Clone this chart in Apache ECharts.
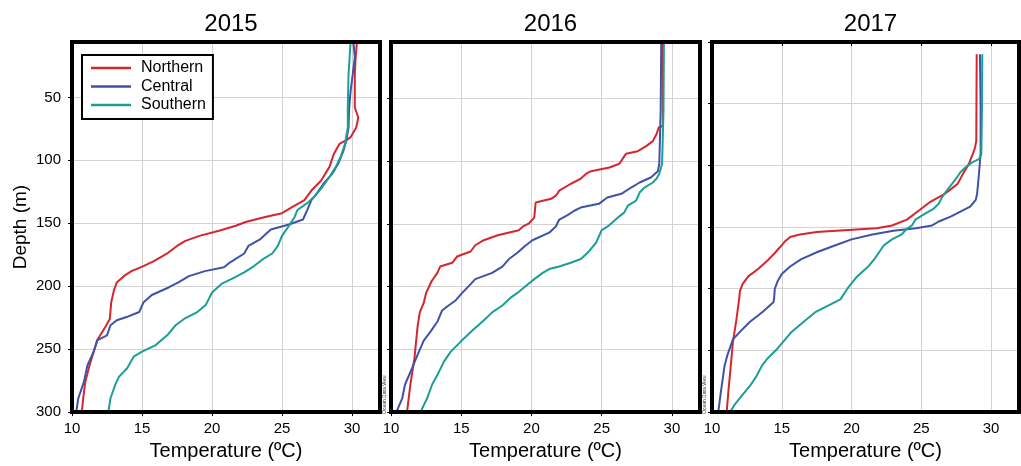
<!DOCTYPE html>
<html>
<head>
<meta charset="utf-8">
<script src="https://cdn.jsdelivr.net/npm/echarts@6/dist/echarts.min.js"></script>
<style>
html,body{margin:0;padding:0;background:#fff;}
#chart{width:1021px;height:466px;}
</style>
</head>
<body>
<div id="chart"></div>
<script>
// ---- DATA: each profile is [temperature (°C), depth (m)] ----
const years = ['2015', '2016', '2017'];
const seriesNames = ['Northern', 'Central', 'Southern'];
const xTicks = [10, 15, 20, 25, 30];
const yTicks = [50, 100, 150, 200, 250, 300];

const north2015 = [[30.35,6],[30.25,20],[30.2,32],[30.2,45],[30.2,58],[30.45,66],[30.3,74],[29.9,81.6],[29.6,84],[29.1,87],[28.7,95],[28.4,105],[27.8,116],[27.1,124],[26.6,131.6],[25.75,137],[25,142],[23.8,145],[22.4,149],[21.7,152],[20.5,156],[19.1,160],[18.1,164],[17.5,168],[16.8,174],[15.85,180],[15.1,184],[14.25,188],[13.7,192],[13.2,197],[13.0,203],[12.8,213],[12.7,226],[12.4,232],[11.8,243],[11.55,252],[11.25,263],[10.95,276],[10.8,289],[10.7,300]];
const central2015 = [[30.1,6],[30.2,18],[30.05,32],[29.9,45],[29.8,58],[29.75,74],[29.6,84],[29.4,92],[29.0,103],[28.6,110.5],[28.0,118],[27.5,126],[27.1,131.6],[26.8,139.5],[26.5,147],[25.5,151],[24.2,155],[23.4,163],[22.6,168],[22.3,174],[21.3,181],[20.85,185],[19.5,188],[18.35,192],[17.6,197],[16.9,201],[15.7,207],[15.1,213],[14.8,220.5],[13.9,224.5],[13.2,227],[12.75,231],[12.5,239],[11.8,243],[11.55,252],[11.1,263],[10.85,276],[10.45,289],[10.3,300]];
const south2015 = [[29.9,6],[29.75,32],[29.7,58],[29.7,74],[29.5,87],[29.2,97],[28.85,105],[28.4,113],[27.9,121],[27.3,129],[26.8,134],[26.1,139.5],[25.9,145],[25.5,152],[25.0,160],[24.7,168],[24.3,174],[23.7,178],[23.0,184],[22.3,189],[21.45,194],[20.7,198],[20.0,205],[19.55,215],[18.95,220.5],[18.0,226],[17.4,231],[16.8,239],[15.95,247],[15.0,252],[14.4,256],[13.95,265],[13.35,272],[13.1,278],[12.75,289],[12.6,300]];

const north2016 = [[29.36,5],[29.36,40],[29.36,72],[29.07,73],[28.9,78.6],[28.64,84],[28.17,88],[27.57,92],[26.74,94],[26.5,98],[26.26,102],[25.55,105],[24.24,108],[23.9,110],[23.5,114],[22.8,118],[21.98,123.5],[21.74,127.5],[21.4,130],[20.3,133],[20.2,145],[19.83,149.5],[19.4,152],[19.1,155],[17.6,159],[16.6,163],[16.0,167],[15.67,172],[14.7,176],[14.36,181],[13.5,184],[13.3,189],[12.9,195.5],[12.5,205],[12.33,213],[12.05,220.5],[11.9,231],[11.67,257],[11.38,278],[11.14,300]];
const central2016 = [[29.24,5],[29.2,60],[29.1,102],[29.0,108],[28.5,113],[27.7,117],[27.1,121],[26.4,126],[25.4,129],[24.8,134],[23.5,137],[23.05,139.5],[22.57,143],[21.98,146.5],[21.74,152],[21.26,157],[20.07,163],[19.5,168],[19.0,173],[18.4,178],[17.93,184],[17.2,189],[16.0,194],[15.67,198],[15.07,205],[14.6,211],[14.1,215],[13.64,219],[13.3,228],[12.8,236],[12.33,243],[11.98,252],[11.5,265],[11.0,278],[10.8,289],[10.38,300]];
const south2016 = [[29.43,5],[29.4,60],[29.3,102],[29.1,110],[28.9,114],[28.64,117],[28.05,121],[27.7,125],[27.45,131.5],[26.86,135.5],[26.6,141],[26.14,145],[25.43,152],[25.0,155],[24.6,165],[24.0,173],[23.52,178],[22.8,181],[21.98,184],[21.26,186],[20.8,189],[20.2,194],[19.6,199.5],[19.0,205],[18.5,209],[17.93,215],[17.2,220.5],[16.6,227],[15.79,235],[14.95,244],[14.24,252],[13.76,260],[13.3,270.5],[12.93,278],[12.57,289],[12.1,300]];

const north2017 = [[28.97,10],[28.95,50],[28.94,80],[28.85,85.6],[28.65,92],[28.4,99],[27.98,107],[27.6,115],[26.7,123],[25.65,129.5],[24.9,136],[23.97,144],[22.9,148.7],[21.8,151],[19.5,152.5],[17.5,154],[16.3,156],[15.6,158],[15.2,162],[14.9,166],[14.5,171],[14.0,177],[13.3,184],[12.6,190],[12.2,196],[12.0,202],[11.95,208],[11.75,225],[11.5,243],[11.35,262],[11.2,280],[11.05,300]];
const central2017 = [[29.2,10],[29.25,50],[29.25,90],[29.13,107],[29.0,123],[28.9,128],[28.5,133.5],[27.8,137.5],[27.1,141.5],[26.25,145.5],[25.77,148.7],[24.6,151],[23.0,153],[21.5,156],[20.0,160],[18.8,165],[17.6,170],[16.4,176],[15.6,182],[15.0,188],[14.7,194],[14.5,200],[14.45,208],[14.4,211],[13.6,219],[12.7,227],[12.0,235],[11.5,241],[11.1,254],[10.9,262.5],[10.7,278.6],[10.6,286.7],[10.45,300]];
const south2017 = [[29.37,10],[29.35,50],[29.3,91],[29.13,95],[28.65,97.6],[28.17,101.6],[27.8,105.6],[27.57,109.6],[27.2,115],[26.85,120],[26.5,125.5],[26.25,131],[25.9,135],[25.3,139],[24.57,144],[24.33,148.7],[23.9,152],[23.6,156],[22.9,160],[22.3,165],[22.0,170],[21.7,175],[21.2,182],[20.4,190],[19.7,200],[19.2,208.6],[18.5,212.6],[17.4,219],[16.55,227],[15.7,235],[15.25,241],[14.65,249],[13.94,257],[13.57,262.5],[13.2,270.6],[12.73,278.6],[12.14,286.7],[11.65,293.5],[11.3,300]];

const profiles = [
  [north2015, central2015, south2015],
  [north2016, central2016, south2016],
  [north2017, central2017, south2017]
];
const depthMin = [6, 5, 0];

// ---- STYLE / LAYOUT ----
const FONT = '"Liberation Sans", Arial, Helvetica, sans-serif';
const colors = ['#d6262d', '#3e52a6', '#1b9e96'];
const grids = [
  {left: 72, top: 42, width: 308, height: 372},
  {left: 391, top: 42, width: 309, height: 372},
  {left: 712, top: 42, width: 307, height: 372}
];

const option = {
  animation: false,
  backgroundColor: '#fff',
  textStyle: {fontFamily: FONT},
  title: years.map((y, i) => ({
    text: y,
    left: grids[i].left + grids[i].width / 2,
    top: 7,
    textAlign: 'center',
    textStyle: {fontFamily: FONT, fontSize: 24, fontWeight: 'normal', color: '#000'}
  })),
  legend: {
    data: seriesNames.map(n => ({name: n, icon: 'rect'})),
    orient: 'vertical',
    left: 82,
    top: 55,
    backgroundColor: '#fff',
    borderColor: '#000',
    borderWidth: 2,
    padding: [4, 7, 5, 9],
    itemWidth: 40,
    itemHeight: 2.5,
    itemGap: 0.5,
    textStyle: {fontFamily: FONT, fontSize: 16, color: '#000', lineHeight: 18, padding: [0, 0, 0, 5]},
    z: 20
  },
  grid: grids.map(g => Object.assign({}, g, {
    show: true, borderColor: '#000', borderWidth: 4, backgroundColor: 'transparent', z: 10
  })),
  xAxis: grids.map((g, i) => ({
    type: 'value',
    gridIndex: i,
    min: 10,
    max: 32,
    interval: 5,
    name: 'Temperature (ºC)',
    nameLocation: 'middle',
    nameGap: 21,
    nameTextStyle: {fontFamily: FONT, fontSize: 20, color: '#000'},
    axisLine: {show: false},
    axisTick: {show: true, length: 4, customValues: xTicks, lineStyle: {color: '#000', width: 1}},
    axisLabel: {show: true, customValues: xTicks, fontFamily: FONT, fontSize: 15, color: '#000', margin: 9},
    splitLine: {show: true, lineStyle: {color: '#d2d2d2', width: 1}}
  })),
  yAxis: grids.map((g, i) => ({
    type: 'value',
    gridIndex: i,
    inverse: true,
    min: depthMin[i],
    max: 300,
    name: i === 0 ? 'Depth (m)' : '',
    nameLocation: 'middle',
    nameGap: 42,
    nameTextStyle: {fontFamily: FONT, fontSize: 19, color: '#000'},
    axisLine: {show: false},
    axisTick: {show: true, length: 4, customValues: i === 2 ? [0].concat(yTicks) : yTicks, lineStyle: {color: '#000', width: 1}},
    axisLabel: {show: i === 0, customValues: yTicks, fontFamily: FONT, fontSize: 15, color: '#000', margin: 11},
    splitLine: {show: true, lineStyle: {color: '#d2d2d2', width: 1}}
  })),
  series: []
};

profiles.forEach((set, gi) => {
  set.forEach((data, si) => {
    option.series.push({
      name: seriesNames[si],
      type: 'line',
      xAxisIndex: gi,
      yAxisIndex: gi,
      data: data,
      symbol: 'none',
      showSymbol: false,
      smooth: false,
      clip: true,
      color: colors[si],
      itemStyle: {color: colors[si]},
      lineStyle: {color: colors[si], width: 2},
      z: 3
    });
  });
});

option.graphic = [385, 705].map(x => ({
  type: 'text',
  x: x,
  y: 414,
  rotation: Math.PI / 2,
  style: {text: 'Ocean Data View', fontFamily: FONT, fontSize: 5, fill: '#333', textVerticalAlign: 'middle'},
  z: 30
}));

const chart = echarts.init(document.getElementById('chart'), null, {renderer: 'canvas'});
chart.setOption(option);
</script>
</body>
</html>
